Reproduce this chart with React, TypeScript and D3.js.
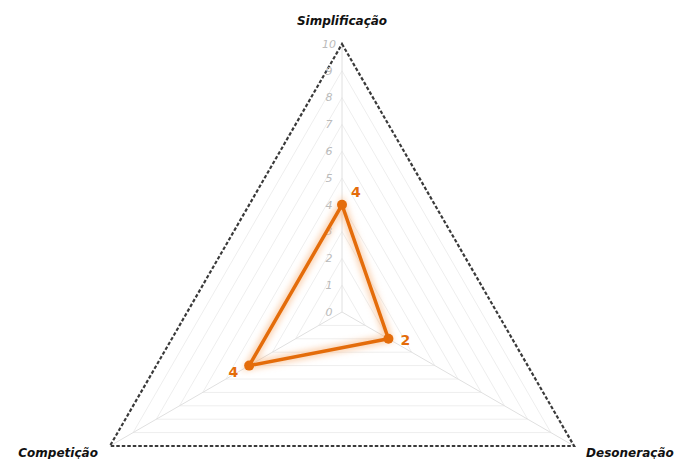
import { useRef, useEffect } from 'react'
import * as d3 from 'd3'

const categories = ['Simplificação', 'Desoneração', 'Competição']
const values = [4, 2, 4]
const ticks = [0, 1, 2, 3, 4, 5, 6, 7, 8, 9, 10]

const W = 683
const H = 459
const cx = 342
const cy = 312
const R = 268
const ORANGE = '#E46C0A'

export default function App() {
  const svgRef = useRef<SVGSVGElement>(null)

  useEffect(() => {
    const svg = d3.select(svgRef.current)
    svg.selectAll('*').remove()

    const r = d3.scaleLinear().domain([0, 10]).range([0, R])
    const angle = d3.scaleLinear().domain([0, categories.length]).range([-Math.PI / 2, 1.5 * Math.PI])
    const pt = (i: number, v: number): [number, number] => [
      cx + r(v) * Math.cos(angle(i)),
      cy + r(v) * Math.sin(angle(i)),
    ]

    const defs = svg.append('defs')
    defs.append('filter').attr('id', 'glow').attr('x', '-20%').attr('y', '-20%').attr('width', '140%').attr('height', '140%')
      .append('feGaussianBlur').attr('stdDeviation', 3)

    const g = svg.append('g')
    const poly = d3.line<[number, number]>().curve(d3.curveLinearClosed)

    // grid rings
    g.selectAll('.ring')
      .data(ticks.filter(t => t > 0 && t < 10))
      .join('path')
      .attr('class', 'ring')
      .attr('d', t => poly(categories.map((_, i) => pt(i, t))))
      .attr('fill', 'none')
      .attr('stroke', '#eeeeee')
      .attr('stroke-width', 1)

    // spokes
    g.selectAll('.spoke')
      .data(categories)
      .join('line')
      .attr('class', 'spoke')
      .attr('x1', cx).attr('y1', cy)
      .attr('x2', (_, i) => pt(i, 10)[0])
      .attr('y2', (_, i) => pt(i, 10)[1])
      .attr('stroke', '#e0e0e0')
      .attr('stroke-width', 1)

    // outer dashed triangle
    g.append('path')
      .attr('d', poly(categories.map((_, i) => pt(i, 10))))
      .attr('fill', 'none')
      .attr('stroke', '#3a3a3a')
      .attr('stroke-width', 2.2)
      .attr('stroke-dasharray', '3.5 2')

    // tick labels
    g.selectAll('.tick')
      .data(ticks)
      .join('text')
      .attr('class', 'tick')
      .attr('x', cx - 13)
      .attr('y', t => cy - r(t))
      .attr('dy', '0.35em')
      .attr('text-anchor', 'middle')
      .attr('font-family', 'DejaVu Sans, sans-serif')
      .attr('font-style', 'italic')
      .attr('font-size', 11)
      .attr('fill', '#bbbbbb')
      .text(t => t)

    // series
    const seriesPts = values.map((v, i) => pt(i, v))
    g.append('path')
      .attr('d', poly(seriesPts))
      .attr('fill', 'none')
      .attr('stroke', '#F7B27A')
      .attr('stroke-opacity', 0.6)
      .attr('stroke-width', 8)
      .attr('filter', 'url(#glow)')
    g.append('path')
      .attr('d', poly(seriesPts))
      .attr('fill', 'none')
      .attr('stroke', ORANGE)
      .attr('stroke-width', 3.5)
      .attr('stroke-linejoin', 'round')
    g.selectAll('.dot')
      .data(seriesPts)
      .join('circle')
      .attr('class', 'dot')
      .attr('cx', d => d[0])
      .attr('cy', d => d[1])
      .attr('r', 5)
      .attr('fill', ORANGE)

    // value labels
    const offsets: [number, number, string][] = [[9, -8, 'start'], [12, 6, 'start'], [-11, 11, 'end']]
    g.selectAll('.val')
      .data(values)
      .join('text')
      .attr('class', 'val')
      .attr('x', (_, i) => seriesPts[i][0] + offsets[i][0])
      .attr('y', (_, i) => seriesPts[i][1] + offsets[i][1])
      .attr('text-anchor', (_, i) => offsets[i][2])
      .attr('font-family', 'DejaVu Sans, sans-serif')
      .attr('font-weight', 'bold')
      .attr('font-size', 14)
      .attr('fill', ORANGE)
      .text(d => d)

    // category labels
    const catPos: [number, number, string][] = [[0, -19, 'middle'], [12, 11, 'start'], [-12, 11, 'end']]
    g.selectAll('.cat')
      .data(categories)
      .join('text')
      .attr('class', 'cat')
      .attr('x', (_, i) => pt(i, 10)[0] + catPos[i][0])
      .attr('y', (_, i) => pt(i, 10)[1] + catPos[i][1])
      .attr('text-anchor', (_, i) => catPos[i][2])
      .attr('font-family', 'DejaVu Sans, sans-serif')
      .attr('font-weight', 'bold')
      .attr('font-style', 'italic')
      .attr('font-size', 12)
      .attr('fill', '#111')
      .text(d => d)
  }, [])

  return (
    <div style={{ position: 'absolute', left: 0, top: 0 }}>
      <svg ref={svgRef} width={W} height={H} style={{ display: 'block' }} />
    </div>
  )
}
